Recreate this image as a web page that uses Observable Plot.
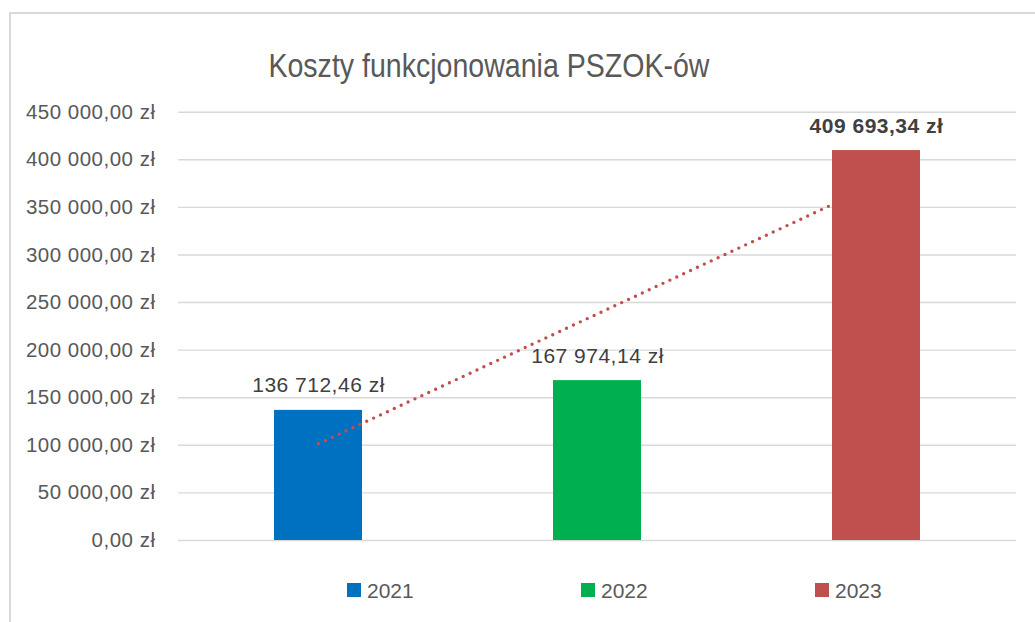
<!DOCTYPE html>
<html><head><meta charset="utf-8">
<script src="https://cdn.jsdelivr.net/npm/d3@7"></script>
<script src="https://cdn.jsdelivr.net/npm/@observablehq/plot@0.6"></script>
<style>
body{margin:0;background:#fff;}
#wrap{position:relative;width:1035px;height:622px;overflow:hidden;font-family:"Liberation Sans",Arial,sans-serif;background:#fff;}
#frame{position:absolute;left:9px;top:12px;width:1100px;height:700px;border-top:2px solid #d9d9d9;border-left:2px solid #d9d9d9;box-sizing:border-box;}
#chart{position:absolute;left:0;top:0;}
#chart svg text{letter-spacing:0.5px;}
#title{position:absolute;left:0;width:978px;top:49px;line-height:33px;text-align:center;font-size:33px;color:#595959;white-space:nowrap;}
#title span{display:inline-block;transform:scaleX(0.865);transform-origin:50% 50%;}
.item{position:absolute;top:580px;height:21px;line-height:21px;font-size:21px;color:#595959;white-space:nowrap;}
.sw{position:absolute;left:0;top:3px;width:14px;height:14px;}
.lt{position:absolute;left:20px;top:0;}
</style></head>
<body>
<div id="wrap">
  <div id="frame"></div>
  <div id="chart"></div>
  <div id="title"><span></span></div>
  <div id="legend"></div>
</div>
<script>
const title = "Koszty funkcjonowania PSZOK-ów";
const years = ["2021", "2022", "2023"];
const costs = [136712.46, 167974.14, 409693.34];
const colors = ["#0070C0", "#00B050", "#C0504D"];
const yTicks = [0, 50000, 100000, 150000, 200000, 250000, 300000, 350000, 400000, 450000];

const pl = d3.formatLocale({decimal: ",", thousands: " ", grouping: [3], currency: ["", " zł"]});
const fmt = pl.format("$,.2f");

const data = years.map((y, i) => ({year: y, value: costs[i], color: colors[i]}));

// linear trendline (least squares over category index)
const xs = costs.map((_, i) => i + 1);
const mx = d3.mean(xs), my = d3.mean(costs);
const slope = d3.sum(xs.map((x, i) => (x - mx) * (costs[i] - my))) / d3.sum(xs.map(x => (x - mx) ** 2));
const icpt = my - slope * mx;
const trend = years.map((y, i) => ({year: y, value: icpt + slope * (i + 1)}));

const labelFont = {fontSize: 21, fill: "#404040"};

const chart = Plot.plot({
  width: 1035,
  height: 622,
  marginLeft: 178,
  marginRight: 19,
  marginTop: 111.7,
  marginBottom: 82,
  style: {fontFamily: "'Liberation Sans', Arial, sans-serif", fontSize: "20px", color: "#595959", background: "transparent"},
  x: {domain: years, paddingInner: 0.685, paddingOuter: 0.3425, axis: null},
  y: {domain: [0, 450000], axis: null},
  marks: [
    Plot.ruleY(yTicks, {stroke: "#d9d9d9", strokeWidth: 1.4}),
    Plot.axisY(yTicks, {label: null, tickSize: 0, tickPadding: 23, tickFormat: fmt, fontSize: 20.5, fill: "#595959"}),
    Plot.barY(data, {x: "year", y: "value", fill: "color"}),
    Plot.line(trend, {x: "year", y: "value", stroke: "#C0504D", strokeWidth: 3.4, strokeDasharray: "0 7.6", strokeLinecap: "round"}),
    Plot.text(data.filter((d, i) => i < 2), {x: "year", y: "value", text: d => fmt(d.value), lineAnchor: "bottom", dy: -18, ...labelFont}),
    Plot.text(data.filter((d, i) => i === 2), {x: "year", y: "value", text: d => fmt(d.value), lineAnchor: "bottom", dy: -18, fontWeight: "bold", ...labelFont})
  ]
});
document.getElementById("chart").appendChild(chart);
document.querySelector("#title span").textContent = title;

const legendX = [347, 581, 815];
const leg = document.getElementById("legend");
years.forEach((y, i) => {
  const it = document.createElement("div");
  it.className = "item";
  it.style.left = legendX[i] + "px";
  it.innerHTML = `<div class="sw" style="background:${colors[i]}"></div><div class="lt">${y}</div>`;
  leg.appendChild(it);
});
</script>
</body></html>
